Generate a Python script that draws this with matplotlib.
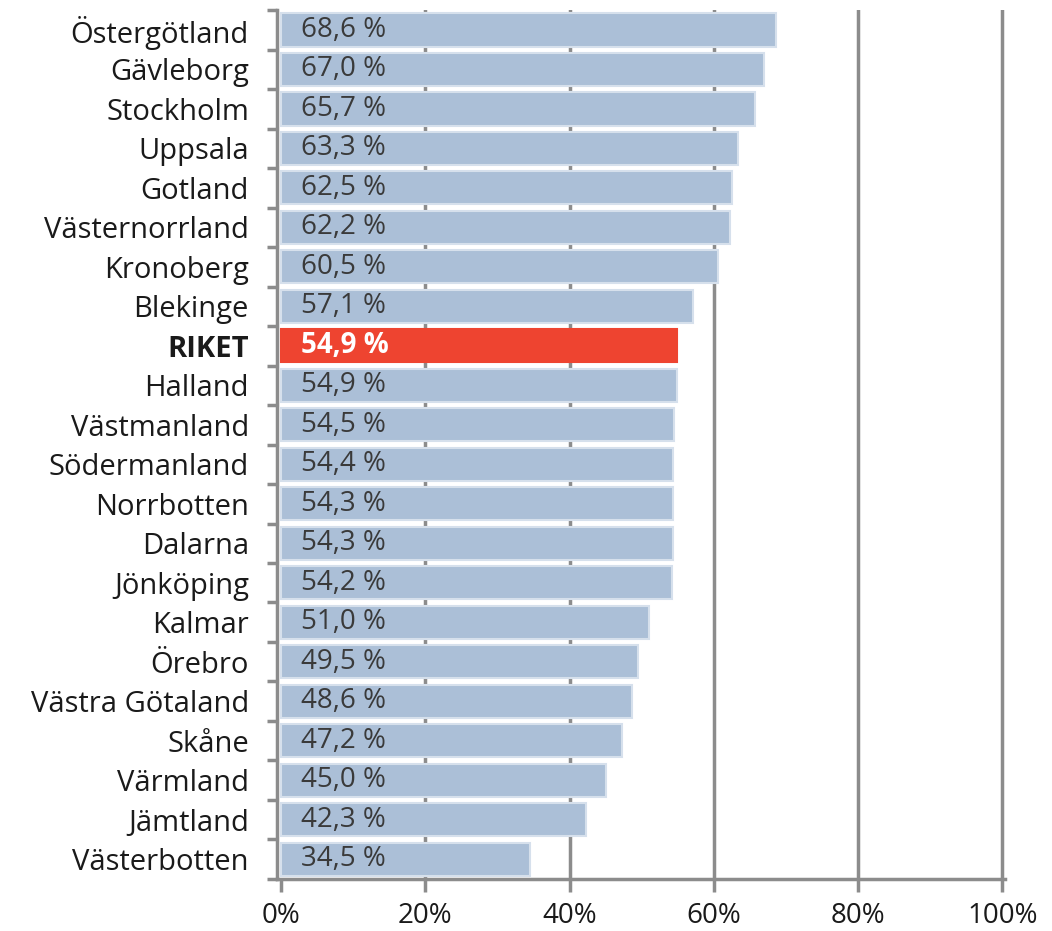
import matplotlib
matplotlib.use('Agg')
import numpy as np
from matplotlib import pyplot as plt

# regioner, uppifrån och ned
lan = ['Östergötland', 'Gävleborg', 'Stockholm', 'Uppsala', 'Gotland',
       'Västernorrland', 'Kronoberg', 'Blekinge', 'RIKET', 'Halland',
       'Västmanland', 'Södermanland', 'Norrbotten', 'Dalarna', 'Jönköping',
       'Kalmar', 'Örebro', 'Västra Götaland', 'Skåne', 'Värmland',
       'Jämtland', 'Västerbotten']
andel = [68.6, 67.0, 65.7, 63.3, 62.5, 62.2, 60.5, 57.1, 54.9, 54.9,
         54.5, 54.4, 54.3, 54.3, 54.2, 51.0, 49.5, 48.6, 47.2, 45.0,
         42.3, 34.5]
xticks = [0, 20, 40, 60, 80, 100]
xticklabels = ['0%', '20%', '40%', '60%', '80%', '100%']

plt.rcParams['font.family'] = ['Open Sans', 'DejaVu Sans']

fig = plt.figure(figsize=(10.52, 9.31), dpi=100)
ax = fig.add_axes([0.263, 0.056, 0.692, 0.933])

grey = '#8c8c8c'
y = np.arange(len(lan))
colors = ['#ee4430' if l == 'RIKET' else '#abbfd7' for l in lan]
edges = ['#ee4430' if l == 'RIKET' else '#d6e0ec' for l in lan]
ax.barh(y, andel, height=0.84, color=colors, edgecolor=edges, linewidth=1.5, zorder=3)

for i, (l, v) in enumerate(zip(lan, andel)):
    txt = ('%.1f %%' % v).replace('.', ',')
    if l == 'RIKET':
        ax.text(2.8, i, txt, va='center', ha='left', fontsize=20, color='white',
                fontweight='bold', zorder=4)
    else:
        ax.text(2.8, i, txt, va='center', ha='left', fontsize=20, color='#3a3a3a', zorder=4)

ax.set_ylim(len(lan) - 0.5, -0.5)
ax.set_xlim(-0.6, 100.3)

# y-ticks vid gränserna mellan rader
ax.set_yticks(np.arange(len(lan) + 1) - 0.5, minor=False)
ax.set_yticklabels([])
ax.set_yticks(y, minor=True)
ax.set_yticklabels(lan, minor=True)
for t, l in zip(ax.get_yticklabels(minor=True), lan):
    t.set_fontsize(21)
    t.set_color('#1a1a1a')
    if l == 'RIKET':
        t.set_fontweight('bold')
ax.tick_params(axis='y', which='minor', length=0, pad=20)
ax.tick_params(axis='y', which='major', length=7, width=2.5, color=grey, direction='out')

ax.set_xticks(xticks)
ax.set_xticklabels(xticklabels, fontsize=20, color='#1a1a1a')
ax.tick_params(axis='x', length=9, width=2.5, color=grey, pad=8)

for xv in xticks[1:]:
    ax.axvline(xv, color=grey, lw=2.5, zorder=1)

for s in ['top', 'right']:
    ax.spines[s].set_visible(False)
for s in ['left', 'bottom']:
    ax.spines[s].set_color(grey)
    ax.spines[s].set_linewidth(2.5)

fig.savefig('out.png', dpi=100)
